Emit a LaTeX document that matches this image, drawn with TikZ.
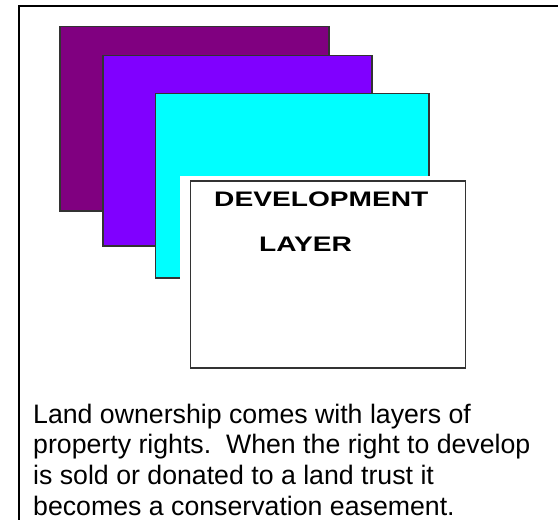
\documentclass[tikz,border=0pt]{standalone}
\usepackage{fontspec}
\setmainfont{Liberation Sans}
\definecolor{cyanlayer}{RGB}{0,255,255}
\definecolor{purplelayer}{RGB}{128,0,128}
\definecolor{violetlayer}{RGB}{128,0,255}
\tikzset{
  layer/.style={draw=black!80, line width=1.5pt},
  body/.style={anchor=base west, inner sep=0pt, font=\fontsize{26.7}{28}\selectfont},
  head/.style={anchor=base west, inner sep=0pt, font=\bfseries\fontsize{21}{22}\selectfont}
}
\begin{document}
\begin{tikzpicture}[x=1pt,y=-1pt]
\useasboundingbox (0,0) rectangle (558,520);
\fill[white] (0,0) rectangle (558,520);
\draw[black,line width=2pt] (18.5,520) -- (18.5,6) -- (558,6);
\path[layer,fill=purplelayer] (60,26.5) rectangle (329,211);
\path[layer,fill=violetlayer] (103,55.5) rectangle (372,246);
\path[layer,fill=cyanlayer] (155.5,93.5) rectangle (429,278);
\fill[white] (180,176) rectangle (470,372);
\path[layer,fill=white] (190.5,181) rectangle (465.5,368);
\node[head] (t1) at (214,206.5) {\scalebox{1.34}[1]{DEVELOPMENT}};
\node[head] (t2) at (259,251.5) {\scalebox{1.34}[1]{LAYER}};
\node[body] (l1) at (33,423) {Land ownership comes with layers of};
\node[body] (l2) at (33,453) {property rights.\ \ When the right to develop};
\node[body] (l3) at (33,484) {is sold or donated to a land trust it};
\node[body] (l4) at (33,515) {becomes a conservation easement.};
\end{tikzpicture}
\end{document}
